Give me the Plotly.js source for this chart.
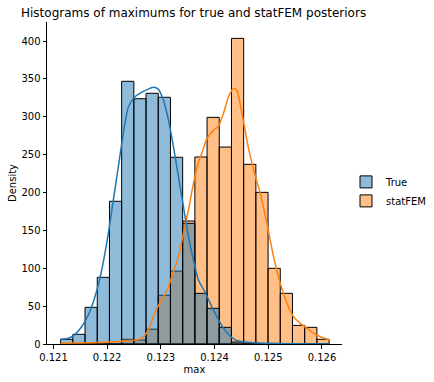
<!DOCTYPE html>
<html>
<head>
<meta charset="utf-8">
<script src="https://cdn.plot.ly/plotly-3.0.1.min.js"></script>
<style>html,body{margin:0;padding:0;background:#fff;}#chart{width:434px;height:382px;}</style>
</head>
<body>
<div id="chart"></div>
<script>
// Common histogram bins (22 bins)
const binStart = 0.121134;
const binWidth = 0.0002272;
const trueDensity = [6.2, 12.8, 48.4, 88, 188.4, 346.8, 323.8, 331, 325.7, 246.5, 159.3, 66.9, 47.1, 22, 2.6, 0, 0, 0, 0, 0, 0, 0];
const statfemDensity = [0, 0, 0, 0, 0, 6.2, 5.3, 19.6, 64.3, 96.2, 162.4, 246.9, 299.2, 260, 403.5, 237.2, 200.2, 99.9, 66.9, 24.6, 22, 6.2];

// KDE curves
const trueKdeX = [0.121134, 0.121276, 0.121401, 0.121526, 0.121649, 0.121774, 0.121899, 0.122022, 0.122115, 0.122208, 0.122301, 0.122395, 0.122520, 0.122706, 0.122861, 0.122954, 0.123047, 0.123141, 0.123234, 0.123327, 0.123420, 0.123514, 0.123607, 0.123700, 0.123825, 0.123918, 0.124012, 0.124137, 0.124260, 0.124385, 0.124627, 0.124944, 0.125410, 0.126132];
const trueKdeY = [6.2, 7.5, 12.8, 22.8, 38.3, 62.5, 97.7, 146, 190, 234, 278, 313, 326.5, 334.4, 338.9, 336.2, 322, 295.7, 260.5, 220.9, 181.3, 141.6, 110.9, 84.5, 68, 54, 40, 24, 12.5, 5.5, 2.2, 1, 0.4, 0.1];
const statfemKdeX = [0.121134, 0.121680, 0.122053, 0.122333, 0.122613, 0.122706, 0.122799, 0.122893, 0.122986, 0.123079, 0.123141, 0.123234, 0.123327, 0.123420, 0.123514, 0.123607, 0.123700, 0.123764, 0.123857, 0.123980, 0.124073, 0.124166, 0.124260, 0.124353, 0.124416, 0.124510, 0.124633, 0.124758, 0.124851, 0.124976, 0.125099, 0.125224, 0.125349, 0.125472, 0.125597, 0.125722, 0.125845, 0.125970, 0.126132];
const statfemKdeY = [1, 1.5, 2.5, 4, 6.5, 12, 24, 42, 55, 66, 75.6, 95.5, 115.2, 146, 177, 212, 240, 252, 271, 282, 287.5, 304.5, 326.5, 337.5, 335, 304.5, 258, 222, 199, 159, 115, 80, 53.7, 36, 27.3, 20.7, 14, 9.6, 5.3];

const seriesNames = ['True', 'statFEM'];
const xTicks = [0.121, 0.122, 0.123, 0.124, 0.125, 0.126];
const yTicks = [0, 50, 100, 150, 200, 250, 300, 350, 400];

const centers = trueDensity.map((_, i) => binStart + (i + 0.5) * binWidth);

const font = 'DejaVu Sans, sans-serif';
const traces = [
  {type: 'bar', x: centers, y: statfemDensity, width: binWidth, name: seriesNames[1], legendrank: 2,
   marker: {color: 'rgba(255,127,14,0.5)', line: {color: '#000', width: 1}}, hoverinfo: 'skip'},
  {type: 'bar', x: centers, y: trueDensity, width: binWidth, name: seriesNames[0], legendrank: 1,
   marker: {color: 'rgba(31,119,180,0.5)', line: {color: '#000', width: 1}}, hoverinfo: 'skip'},
  {type: 'scatter', mode: 'lines', x: statfemKdeX, y: statfemKdeY, showlegend: false,
   line: {color: '#ff7f0e', width: 1.5, shape: 'spline', smoothing: 0.6}},
  {type: 'scatter', mode: 'lines', x: trueKdeX, y: trueKdeY, showlegend: false,
   line: {color: '#1f77b4', width: 1.5, shape: 'spline', smoothing: 0.6}}
];

const layout = {
  width: 434, height: 382,
  margin: {l: 47, r: 92, t: 22, b: 38, pad: 0},
  paper_bgcolor: '#fff', plot_bgcolor: '#fff',
  barmode: 'overlay', bargap: 0,
  font: {family: font, size: 10, color: '#000'},
  title: {text: 'Histograms of maximums for true and statFEM posteriors',
          font: {family: font, size: 12, color: '#000'},
          xref: 'container', yref: 'container', x: 21/434, xanchor: 'left', y: 1 - 13/382, yanchor: 'middle'},
  xaxis: {range: [0.12088, 0.126373], tickvals: xTicks, ticktext: xTicks.map(v => v.toFixed(3)),
          showgrid: false, zeroline: false, showline: true, linecolor: '#000', linewidth: 1,
          ticks: 'outside', ticklen: 3.5, tickwidth: 1, tickcolor: '#000',
          tickfont: {family: font, size: 10, color: '#000'},
          title: {text: 'max', font: {family: font, size: 10, color: '#000'}, standoff: 4}},
  yaxis: {range: [0, 425.1], tickvals: yTicks, ticktext: yTicks.map(String),
          showgrid: false, zeroline: false, showline: true, linecolor: '#000', linewidth: 1,
          ticks: 'outside', ticklen: 3.5, tickwidth: 1, tickcolor: '#000',
          tickfont: {family: font, size: 10, color: '#000'},
          title: {text: 'Density', font: {family: font, size: 10, color: '#000'}, standoff: 2}},
  legend: {x: 346/434, xref: 'container', y: 0.499, yref: 'container', yanchor: 'middle', xanchor: 'left',
           font: {family: font, size: 10, color: '#000'}, bgcolor: 'rgba(0,0,0,0)', itemwidth: 30, tracegroupgap: 0},
  showlegend: true
};

Plotly.newPlot('chart', traces, layout, {displayModeBar: false, staticPlot: true});
</script>
</body>
</html>
